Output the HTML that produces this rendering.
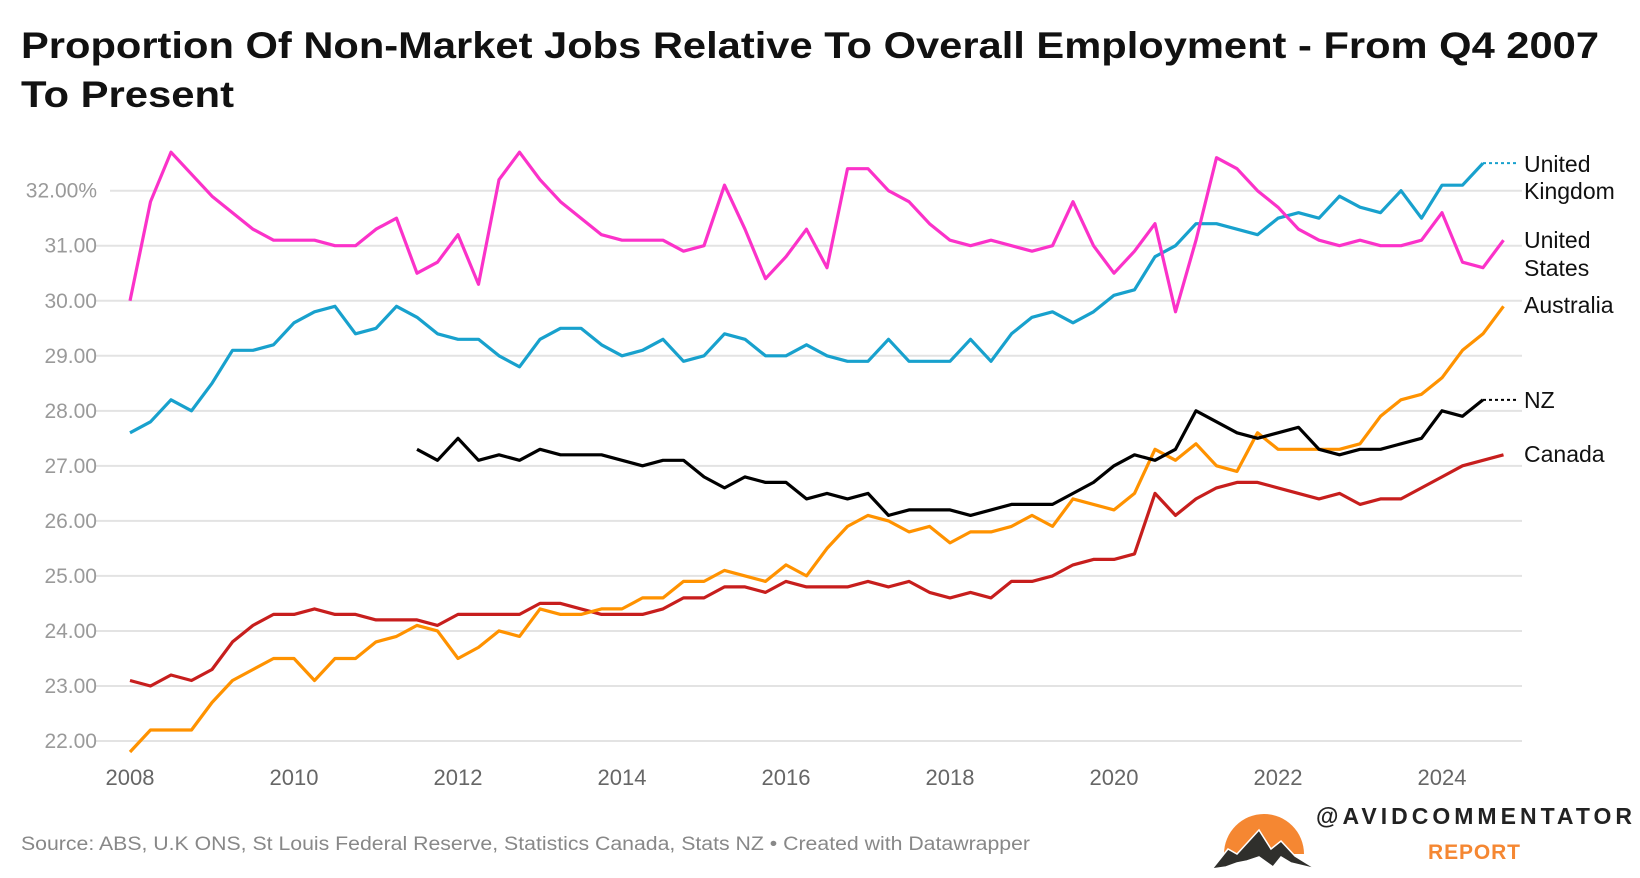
<!DOCTYPE html>
<html><head><meta charset="utf-8"><style>
html,body{margin:0;padding:0;background:#fff;}
svg{display:block;font-family:"Liberation Sans",sans-serif;}
</style></head><body>
<svg id="chart" width="1640" height="878" viewBox="0 0 1640 878" xmlns="http://www.w3.org/2000/svg">
<text x="21" y="58" font-size="37" font-weight="bold" fill="#111" textLength="1578" lengthAdjust="spacingAndGlyphs">Proportion Of Non-Market Jobs Relative To Overall Employment - From Q4 2007</text>
<text x="21" y="107" font-size="37" font-weight="bold" fill="#111" textLength="213" lengthAdjust="spacingAndGlyphs">To Present</text>
<g id="grid"></g><g id="yticks"></g><g id="xticks"></g><g id="lines"></g><g id="labels"></g>
<text x="21" y="850" font-size="19" fill="#888" textLength="1009" lengthAdjust="spacingAndGlyphs">Source: ABS, U.K ONS, St Louis Federal Reserve, Statistics Canada, Stats NZ • Created with Datawrapper</text>
<g>
<path d="M1224,854 A40,40 0 1 1 1304,854 Z" fill="#f58732"/>
<path d="M1212,869 L1228,849 L1237,854 L1259,830 L1271,849 L1281,841 L1295,856 L1316,869 L1291,863 L1281,857 L1273,867 L1259,857 L1247,861 L1237,863 L1226,867 Z" fill="#2f2f2c" stroke="#fff" stroke-width="1.5"/>
<text x="1316" y="824" font-size="23" font-weight="bold" fill="#222" textLength="316" lengthAdjust="spacing">@AVIDCOMMENTATOR</text>
<text x="1428" y="859" font-size="21" font-weight="bold" fill="#f58732" textLength="92" lengthAdjust="spacing">REPORT</text>
</g>
</svg>
<script>
const yTicks=[32,31,30,29,28,27,26,25,24,23,22];
const yTickLabels=["32.00%","31.00","30.00","29.00","28.00","27.00","26.00","25.00","24.00","23.00","22.00"];
const xTickYears=[2008,2010,2012,2014,2016,2018,2020,2022,2024];
const usValues=[30.0,31.8,32.7,32.3,31.9,31.6,31.3,31.1,31.1,31.1,31.0,31.0,31.3,31.5,30.5,30.7,31.2,30.3,32.2,32.7,32.2,31.8,31.5,31.2,31.1,31.1,31.1,30.9,31.0,32.1,31.3,30.4,30.8,31.3,30.6,32.4,32.4,32.0,31.8,31.4,31.1,31.0,31.1,31.0,30.9,31.0,31.8,31.0,30.5,30.9,31.4,29.8,31.1,32.6,32.4,32.0,31.7,31.3,31.1,31.0,31.1,31.0,31.0,31.1,31.6,30.7,30.6,31.1];
const ukValues=[27.6,27.8,28.2,28.0,28.5,29.1,29.1,29.2,29.6,29.8,29.9,29.4,29.5,29.9,29.7,29.4,29.3,29.3,29.0,28.8,29.3,29.5,29.5,29.2,29.0,29.1,29.3,28.9,29.0,29.4,29.3,29.0,29.0,29.2,29.0,28.9,28.9,29.3,28.9,28.9,28.9,29.3,28.9,29.4,29.7,29.8,29.6,29.8,30.1,30.2,30.8,31.0,31.4,31.4,31.3,31.2,31.5,31.6,31.5,31.9,31.7,31.6,32.0,31.5,32.1,32.1,32.5];
const auValues=[21.8,22.2,22.2,22.2,22.7,23.1,23.3,23.5,23.5,23.1,23.5,23.5,23.8,23.9,24.1,24.0,23.5,23.7,24.0,23.9,24.4,24.3,24.3,24.4,24.4,24.6,24.6,24.9,24.9,25.1,25.0,24.9,25.2,25.0,25.5,25.9,26.1,26.0,25.8,25.9,25.6,25.8,25.8,25.9,26.1,25.9,26.4,26.3,26.2,26.5,27.3,27.1,27.4,27.0,26.9,27.6,27.3,27.3,27.3,27.3,27.4,27.9,28.2,28.3,28.6,29.1,29.4,29.9];
const caValues=[23.1,23.0,23.2,23.1,23.3,23.8,24.1,24.3,24.3,24.4,24.3,24.3,24.2,24.2,24.2,24.1,24.3,24.3,24.3,24.3,24.5,24.5,24.4,24.3,24.3,24.3,24.4,24.6,24.6,24.8,24.8,24.7,24.9,24.8,24.8,24.8,24.9,24.8,24.9,24.7,24.6,24.7,24.6,24.9,24.9,25.0,25.2,25.3,25.3,25.4,26.5,26.1,26.4,26.6,26.7,26.7,26.6,26.5,26.4,26.5,26.3,26.4,26.4,26.6,26.8,27.0,27.1,27.2];
const nzStart=14;
const nzValues=[27.3,27.1,27.5,27.1,27.2,27.1,27.3,27.2,27.2,27.2,27.1,27.0,27.1,27.1,26.8,26.6,26.8,26.7,26.7,26.4,26.5,26.4,26.5,26.1,26.2,26.2,26.2,26.1,26.2,26.3,26.3,26.3,26.5,26.7,27.0,27.2,27.1,27.3,28.0,27.8,27.6,27.5,27.6,27.7,27.3,27.2,27.3,27.3,27.4,27.5,28.0,27.9,28.2];

const NS="http://www.w3.org/2000/svg";
const X0=130, DX=20.5, Y0=190.7, DY=55.03;
function xs(i){return X0+i*DX;}
function ys(v){return Y0+(32-v)*DY;}
function mk(tag,attrs,parent){const e=document.createElementNS(NS,tag);for(const k in attrs)e.setAttribute(k,attrs[k]);document.getElementById(parent).appendChild(e);return e;}

yTicks.forEach((v,i)=>{
  const wide=i===0;
  const g=mk('line',{x1:wide?110:96,x2:1522,y1:ys(v),y2:ys(v),stroke:'#e3e3e3','stroke-width':2},'grid');
  
  
  const t=mk('text',{x:97,y:ys(v)+7,'text-anchor':'end','font-size':21,fill:'#9a9a9a'},'yticks');
  t.textContent=yTickLabels[i];
  
  
});
xTickYears.forEach(yr=>{
  const t=mk('text',{x:xs((yr-2008)*4),y:785,'text-anchor':'middle','font-size':22,fill:'#666'},'xticks');
  t.textContent=yr;
  
  
});
function line(vals,start,color,name){
  const pts=vals.map((v,i)=>xs(i+start).toFixed(1)+','+ys(v).toFixed(1)).join(' ');
  const p=mk('polyline',{points:pts,fill:'none',stroke:color,'stroke-width':3.2,'stroke-linejoin':'round'},'lines');
  
  
}
line(caValues,0,'#c71e1d','canada-line');
line(auValues,0,'#ff9200','australia-line');
line(nzValues,nzStart,'#000','nz-line');
line(ukValues,0,'#18a1cd','uk-line');
line(usValues,0,'#fb32c9','us-line');

const ukEnd=ukValues.length-1, nzEnd=nzStart+nzValues.length-1;
const d1=mk('line',{x1:xs(ukEnd),x2:1518,y1:ys(ukValues[ukEnd]),y2:ys(ukValues[ukEnd]),stroke:'#18a1cd','stroke-width':2,'stroke-dasharray':'3,3'},'labels');


const d2=mk('line',{x1:xs(nzEnd),x2:1518,y1:ys(nzValues[nzValues.length-1]),y2:ys(nzValues[nzValues.length-1]),stroke:'#000','stroke-width':2,'stroke-dasharray':'3,3'},'labels');



const lbls=[["United",172,'uk-label'],["Kingdom",199,'uk-label'],["United",248,'us-label'],["States",276,'us-label'],["Australia",313,'australia-label'],["NZ",408,'nz-label'],["Canada",462,'canada-label']];
lbls.forEach(l=>{
  const t=mk('text',{x:1524,y:l[1],'font-size':23,fill:'#111'},'labels');
  t.textContent=l[0];
  
  
});
</script>
</body></html>
